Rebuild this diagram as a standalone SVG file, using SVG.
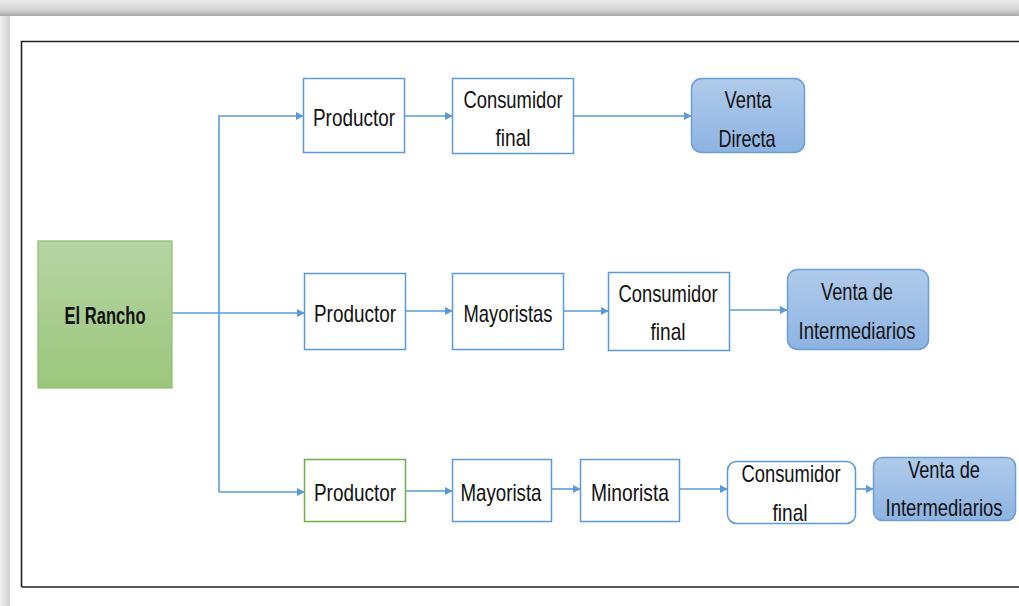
<svg xmlns="http://www.w3.org/2000/svg" width="1019" height="606" viewBox="0 0 1019 606">
  <defs>
    <linearGradient id="topShade" x1="0" y1="0" x2="0" y2="1">
      <stop offset="0" stop-color="#ececec"/>
      <stop offset="0.6" stop-color="#d4d4d4"/>
      <stop offset="1" stop-color="#a8a8a8"/>
    </linearGradient>
    <linearGradient id="leftShade" x1="0" y1="0" x2="1" y2="0">
      <stop offset="0" stop-color="#f0f0f0"/>
      <stop offset="1" stop-color="#cfcfcf"/>
    </linearGradient>
    <linearGradient id="greenFill" x1="0" y1="0" x2="0" y2="1">
      <stop offset="0" stop-color="#b5d5a3"/>
      <stop offset="1" stop-color="#9cc67c"/>
    </linearGradient>
    <linearGradient id="blueFill" x1="0" y1="0" x2="0" y2="1">
      <stop offset="0" stop-color="#b0cbeb"/>
      <stop offset="1" stop-color="#8db3e2"/>
    </linearGradient>
    <marker id="arrow" viewBox="0 0 10 10" refX="9" refY="5" markerWidth="8" markerHeight="8" orient="auto" markerUnits="userSpaceOnUse">
      <path d="M0,0 L10,5 L0,10 z" fill="#5b9bd5"/>
    </marker>
  </defs>
  <style>
    .box { fill: #ffffff; stroke: #5b9bd5; stroke-width: 1.5; }
    .gbox { fill: #ffffff; stroke: #70ad47; stroke-width: 1.5; }
    .venta { fill: url(#blueFill); stroke: #6a9fd8; stroke-width: 1.5; }
    .lbl { font-family: "Liberation Sans", Arial, sans-serif; font-size: 24px; fill: #111111; text-anchor: middle; dominant-baseline: central; }
    .bold { font-weight: bold; }
    .conn { fill: none; stroke: #5b9bd5; stroke-width: 1.6; }
  </style>

  <!-- page and shadow -->
  <rect x="0" y="0" width="1019" height="606" fill="#ffffff"/>
  <rect x="0" y="0" width="1019" height="16" fill="url(#topShade)"/>
  <rect x="0" y="16" width="10" height="590" fill="url(#leftShade)"/>
  <path d="M21.5,587 L21.5,41.5 L1019,41.5 M21.5,587 L1019,587" fill="none" stroke="#222222" stroke-width="1.6"/>

  <!-- connectors -->
  <g id="connectors">
    <path class="conn" d="M172,313 L304,313" marker-end="url(#arrow)"/>
    <path class="conn" d="M219,492 L219,116 L303,116" marker-end="url(#arrow)"/>
    <path class="conn" d="M219,492 L304,492" marker-end="url(#arrow)"/>
    <path class="conn" d="M405,116 L452,116" marker-end="url(#arrow)"/>
    <path class="conn" d="M573,116 L691,116" marker-end="url(#arrow)"/>
    <path class="conn" d="M405,311 L452,311" marker-end="url(#arrow)"/>
    <path class="conn" d="M563,311 L608,311" marker-end="url(#arrow)"/>
    <path class="conn" d="M729,310 L787,310" marker-end="url(#arrow)"/>
    <path class="conn" d="M405,491 L452,491" marker-end="url(#arrow)"/>
    <path class="conn" d="M551,489 L580,489" marker-end="url(#arrow)"/>
    <path class="conn" d="M679,489 L727,489" marker-end="url(#arrow)"/>
    <path class="conn" d="M855,489 L873,489" marker-end="url(#arrow)"/>
  </g>

  <!-- origin -->
  <g id="el-rancho">
    <rect x="38" y="241" width="134" height="147" fill="url(#greenFill)" stroke="#8dbf6c" stroke-width="1.2"/>
    <text class="lbl bold" x="105" y="315" textLength="81" lengthAdjust="spacingAndGlyphs">El Rancho</text>
  </g>

  <!-- row 1: direct sale -->
  <g id="r1-productor">
    <rect class="box" x="303.5" y="78.5" width="101" height="74"/>
    <text class="lbl" x="354" y="117" textLength="82" lengthAdjust="spacingAndGlyphs">Productor</text>
  </g>
  <g id="r1-consumidor">
    <rect class="box" x="452.5" y="78.5" width="121" height="75"/>
    <text class="lbl" x="513" y="99" textLength="99" lengthAdjust="spacingAndGlyphs">Consumidor</text>
    <text class="lbl" x="513" y="137" textLength="35" lengthAdjust="spacingAndGlyphs">final</text>
  </g>
  <g id="r1-venta">
    <rect class="venta" x="691.5" y="78.5" width="113" height="74" rx="10"/>
    <text class="lbl" x="748" y="99" textLength="47" lengthAdjust="spacingAndGlyphs">Venta</text>
    <text class="lbl" x="747" y="138" textLength="57" lengthAdjust="spacingAndGlyphs">Directa</text>
  </g>

  <!-- row 2: one intermediary -->
  <g id="r2-productor">
    <rect class="box" x="304.5" y="273.5" width="101" height="76"/>
    <text class="lbl" x="355" y="313" textLength="82" lengthAdjust="spacingAndGlyphs">Productor</text>
  </g>
  <g id="r2-mayoristas">
    <rect class="box" x="452.5" y="273.5" width="111" height="76"/>
    <text class="lbl" x="508" y="313" textLength="89" lengthAdjust="spacingAndGlyphs">Mayoristas</text>
  </g>
  <g id="r2-consumidor">
    <rect class="box" x="608.5" y="272.5" width="121" height="78"/>
    <text class="lbl" x="668" y="293" textLength="99" lengthAdjust="spacingAndGlyphs">Consumidor</text>
    <text class="lbl" x="668" y="331" textLength="35" lengthAdjust="spacingAndGlyphs">final</text>
  </g>
  <g id="r2-venta">
    <rect class="venta" x="787.5" y="269.5" width="141" height="80" rx="10"/>
    <text class="lbl" x="857" y="291" textLength="72" lengthAdjust="spacingAndGlyphs">Venta de</text>
    <text class="lbl" x="857" y="330" textLength="117" lengthAdjust="spacingAndGlyphs">Intermediarios</text>
  </g>

  <!-- row 3: two intermediaries -->
  <g id="r3-productor">
    <rect class="gbox" x="304.5" y="459.5" width="101" height="62"/>
    <text class="lbl" x="355" y="492" textLength="82" lengthAdjust="spacingAndGlyphs">Productor</text>
  </g>
  <g id="r3-mayorista">
    <rect class="box" x="452.5" y="459.5" width="99" height="62"/>
    <text class="lbl" x="501" y="492" textLength="81" lengthAdjust="spacingAndGlyphs">Mayorista</text>
  </g>
  <g id="r3-minorista">
    <rect class="box" x="580.5" y="459.5" width="99" height="62"/>
    <text class="lbl" x="630" y="492" textLength="78" lengthAdjust="spacingAndGlyphs">Minorista</text>
  </g>
  <g id="r3-consumidor">
    <rect class="box" x="727.5" y="461.5" width="128" height="62" rx="9"/>
    <text class="lbl" x="791" y="473" textLength="99" lengthAdjust="spacingAndGlyphs">Consumidor</text>
    <text class="lbl" x="790" y="512" textLength="35" lengthAdjust="spacingAndGlyphs">final</text>
  </g>
  <g id="r3-venta">
    <rect class="venta" x="873.5" y="457.5" width="142" height="63" rx="9"/>
    <text class="lbl" x="944" y="469" textLength="72" lengthAdjust="spacingAndGlyphs">Venta de</text>
    <text class="lbl" x="944" y="507" textLength="117" lengthAdjust="spacingAndGlyphs">Intermediarios</text>
  </g>
</svg>
